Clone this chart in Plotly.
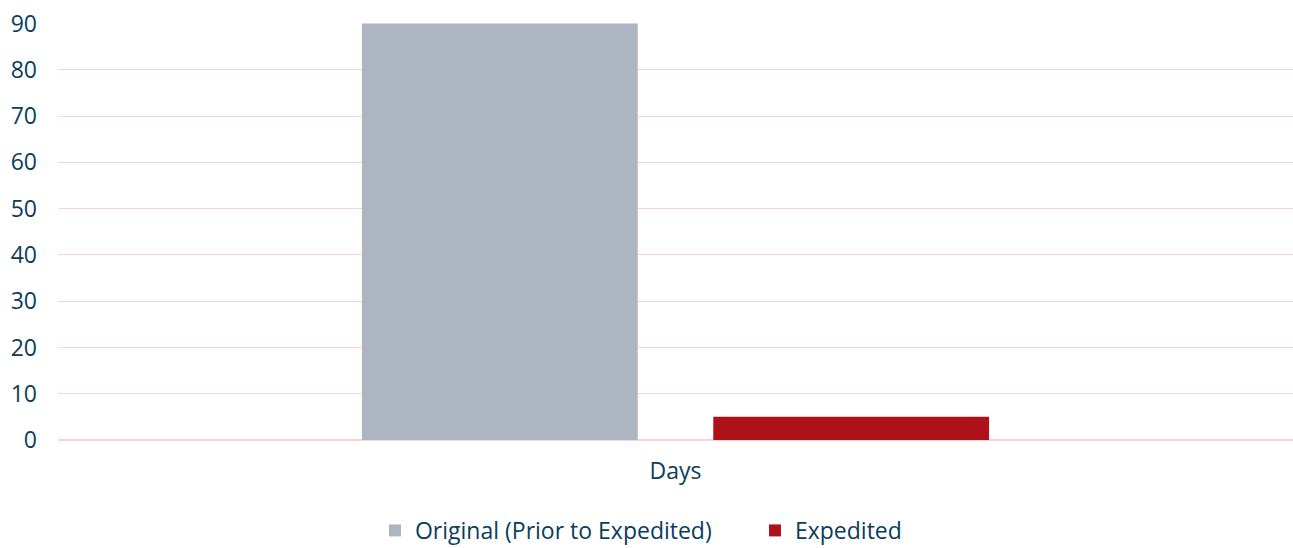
import plotly.graph_objects as go

categories = ["Days"]
series_names = ["Original (Prior to Expedited)", "Expedited"]
original_values = [90]
expedited_values = [5]
y_ticks = [0, 10, 20, 30, 40, 50, 60, 70, 80, 90]

text_color = "#0b3d5c"
grid_color = "#f9d3d3"
font_family = "Open Sans"
fs = 23

fig = go.Figure()
fig.add_trace(go.Bar(x=categories, y=original_values, name=series_names[0],
                     marker=dict(color="#adb5c1", line=dict(width=0))))
fig.add_trace(go.Bar(x=categories, y=expedited_values, name=series_names[1],
                     marker=dict(color="#ae1117", line=dict(width=0))))

fig.update_layout(
    width=1293, height=548,
    margin=dict(l=58, r=0, t=23, b=108),
    paper_bgcolor="white", plot_bgcolor="white",
    barmode="group", bargap=0.431, bargroupgap=0.215,
    font=dict(family=font_family, size=fs, color=text_color),
    showlegend=True,
    legend=dict(orientation="h", xref="container", x=0.29, xanchor="left",
                yref="container", y=0.032, yanchor="middle",
                font=dict(size=fs, color=text_color), itemwidth=30,
                entrywidth=335, entrywidthmode="pixels",
                traceorder="normal"),
    xaxis=dict(showgrid=False, showline=False, ticks="", zeroline=False,
               tickfont=dict(size=fs, color=text_color), ticklabelstandoff=15),
    yaxis=dict(range=[0, 90.1], tickvals=y_ticks, showgrid=True, gridcolor=grid_color,
               gridwidth=1, zeroline=True, zerolinecolor=grid_color, zerolinewidth=2,
               showline=False, ticks="",
               tickfont=dict(size=fs, color=text_color), ticklabelstandoff=20),
)

fig.write_html("out.html")
